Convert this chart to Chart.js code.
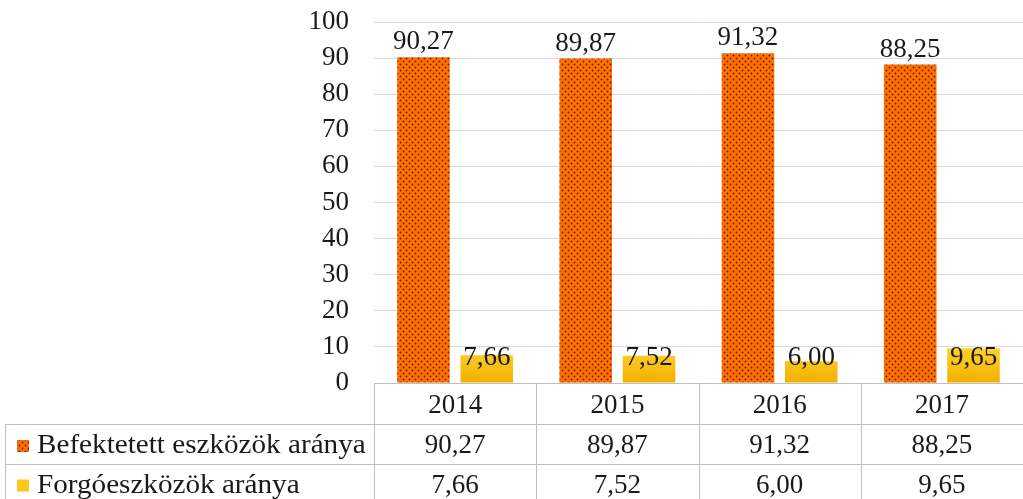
<!DOCTYPE html>
<html>
<head>
<meta charset="utf-8">
<script src="https://cdn.jsdelivr.net/npm/chart.js@4.4.1/dist/chart.umd.min.js"></script>
<style>
  html, body { margin: 0; padding: 0; background: #fff; }
  #wrap { width: 1023px; height: 499px; }
</style>
</head>
<body>
<div id="wrap"><canvas id="chart" width="1023" height="499"></canvas></div>
<script>
// data
const years = ['2014', '2015', '2016', '2017'];
const befektetett = [90.27, 89.87, 91.32, 88.25];
const forgo = [7.66, 7.52, 6.00, 9.65];
const seriesNames = ['Befektetett eszközök aránya', 'Forgóeszközök aránya'];
const yMax = 100;
const yStep = 10;

const FONT = '"Liberation Serif", "Times New Roman", serif';
const fmt = v => v.toFixed(2).replace('.', ',');

// dotted orange fill
function makeDots() {
  const c = document.createElement('canvas');
  c.width = 6; c.height = 6;
  const g = c.getContext('2d');
  g.fillStyle = '#ff7000';
  g.fillRect(0, 0, 6, 6);
  g.fillStyle = '#6a1e00';
  g.beginPath(); g.arc(1.5, 1.5, 0.9, 0, Math.PI * 2); g.fill();
  g.beginPath(); g.arc(4.5, 4.5, 0.9, 0, Math.PI * 2); g.fill();
  return g.createPattern(c, 'repeat');
}
const dots = makeDots();

function yellowFill(ctx) {
  const chart = ctx.chart;
  const a = chart.chartArea;
  if (!a) return '#ffc800';
  const g = chart.ctx.createLinearGradient(0, a.bottom - 40, 0, a.bottom);
  g.addColorStop(0, '#ffd633');
  g.addColorStop(1, '#f2b000');
  return g;
}

// value labels over bars
const valueLabels = {
  id: 'valueLabels',
  afterDatasetsDraw(chart) {
    const ctx = chart.ctx;
    const zeroY = chart.scales.y.getPixelForValue(0);
    ctx.save();
    ctx.font = '27px ' + FONT;
    ctx.fillStyle = '#1a1a1a';
    ctx.textAlign = 'center';
    ctx.textBaseline = 'middle';
    chart.data.datasets.forEach((ds, di) => {
      chart.getDatasetMeta(di).data.forEach((bar, i) => {
        const y = di === 0 ? bar.y - 15 : zeroY - 25;
        ctx.fillText(fmt(ds.data[i]), bar.x, y);
      });
    });
    ctx.restore();
  }
};

// data table under the plot
const dataTable = {
  id: 'dataTable',
  afterDraw(chart) {
    const ctx = chart.ctx;
    const a = chart.chartArea;
    const x = chart.scales.x;
    const top = a.bottom;
    const r1 = top + 41, r2 = top + 81, bottom = chart.height;
    ctx.save();
    ctx.strokeStyle = '#bfbfbf';
    ctx.lineWidth = 1;
    ctx.beginPath();
    ctx.moveTo(a.left, top + 0.5); ctx.lineTo(a.right, top + 0.5);
    ctx.moveTo(5, r1 + 0.5); ctx.lineTo(a.right, r1 + 0.5);
    ctx.moveTo(5, r2 + 0.5); ctx.lineTo(a.right, r2 + 0.5);
    ctx.moveTo(5.5, r1); ctx.lineTo(5.5, bottom);
    ctx.moveTo(a.left + 0.5, top); ctx.lineTo(a.left + 0.5, bottom);
    for (let i = 0; i < years.length - 1; i++) {
      const bx = Math.round((x.getPixelForValue(i) + x.getPixelForValue(i + 1)) / 2) + 0.5;
      ctx.moveTo(bx, top); ctx.lineTo(bx, bottom);
    }
    ctx.stroke();

    ctx.font = '27px ' + FONT;
    ctx.fillStyle = '#1a1a1a';
    ctx.textBaseline = 'middle';
    ctx.textAlign = 'center';
    const rowsY = [(top + r1) / 2 + 2, (r1 + r2) / 2 + 2, (r2 + bottom) / 2 + 4];
    years.forEach((yr, i) => {
      const cx = x.getPixelForValue(i);
      ctx.fillText(yr, cx, rowsY[0]);
      ctx.fillText(fmt(befektetett[i]), cx, rowsY[1]);
      ctx.fillText(fmt(forgo[i]), cx, rowsY[2]);
    });

    // legend keys + series names (source text is set a bit wide)
    ctx.textAlign = 'left';
    [1, 2].forEach(k => {
      const ky = rowsY[k];
      ctx.fillStyle = k === 1 ? dots : '#ffc61a';
      ctx.fillRect(17, ky - 6, 12, 12);
      ctx.fillStyle = '#1a1a1a';
      ctx.save();
      ctx.translate(37, ky);
      ctx.scale(1.08, 1);
      ctx.fillText(seriesNames[k - 1], 0, 0);
      ctx.restore();
    });
    ctx.restore();
  }
};

new Chart(document.getElementById('chart'), {
  type: 'bar',
  data: {
    labels: years,
    datasets: [
      {
        label: seriesNames[0],
        data: befektetett,
        backgroundColor: dots,
        borderWidth: 0,
        categoryPercentage: 0.78,
        barPercentage: 0.83
      },
      {
        label: seriesNames[1],
        data: forgo,
        backgroundColor: yellowFill,
        borderWidth: 0,
        categoryPercentage: 0.78,
        barPercentage: 0.83
      }
    ]
  },
  options: {
    responsive: false,
    animation: false,
    layout: { padding: { top: 22, right: 0, bottom: 116, left: 0 } },
    plugins: {
      legend: { display: false },
      tooltip: { enabled: false }
    },
    scales: {
      x: { display: false },
      y: {
        min: 0,
        max: yMax,
        ticks: {
          stepSize: yStep,
          padding: 25,
          color: '#1a1a1a',
          font: { family: FONT, size: 27 }
        },
        grid: { color: '#d9d9d9', drawTicks: false },
        border: { display: false },
        afterFit(scale) {
          scale.width = 374;
          scale.paddingTop = 0;
          scale.paddingBottom = 0;
        }
      }
    }
  },
  plugins: [valueLabels, dataTable]
});
</script>
</body>
</html>
